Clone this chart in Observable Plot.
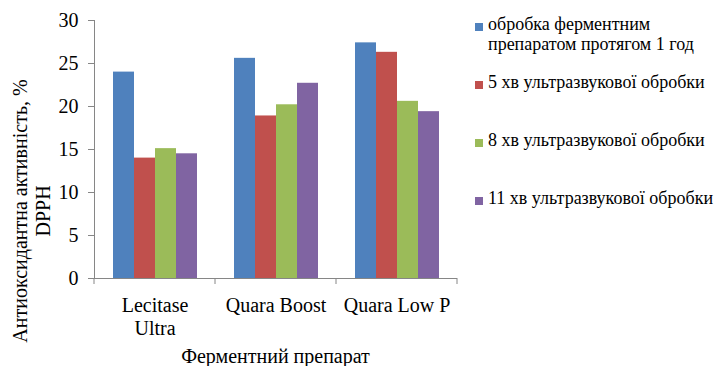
<!DOCTYPE html>
<html><head><meta charset="utf-8">
<script src="https://cdn.jsdelivr.net/npm/d3@7"></script>
<script src="https://cdn.jsdelivr.net/npm/@observablehq/plot@0.6"></script>
<style>
body{margin:0;background:#fff;font-family:"Liberation Serif","Tinos","Times New Roman","DejaVu Serif",serif;}
#wrap{position:relative;width:723px;height:366px;overflow:hidden;background:#fff}
.leg{position:absolute;left:475px;font-size:18px;line-height:20px;color:#000;white-space:nowrap}
.sw{position:absolute;left:0;width:8px;height:8px}
.lt{position:absolute;left:13px;white-space:pre}
svg text{font-family:"Liberation Serif","Tinos","Times New Roman","DejaVu Serif",serif;}
</style></head><body><div id="wrap"></div>
<script>
const categories = ["Lecitase Ultra", "Quara Boost", "Quara Low P"];
const categoryLabels = ["Lecitase\nUltra", "Quara Boost", "Quara Low P"];
const series = ["обробка ферментним препаратом протягом 1 год", "5 хв ультразвукової обробки", "8 хв ультразвукової обробки", "11 хв ультразвукової обробки"];
const legendLabels = ["обробка ферментним\nпрепаратом протягом 1 год", "5 хв ультразвукової обробки", "8 хв ультразвукової обробки", "11 хв ультразвукової обробки"];
const colors = ["#4F81BD", "#C0504D", "#9BBB59", "#8064A2"];
const lecitaseUltra = [24.0, 14.0, 15.1, 14.5];
const quaraBoost = [25.6, 18.9, 20.2, 22.7];
const quaraLowP = [27.4, 26.3, 20.6, 19.4];
const yTicks = [0, 5, 10, 15, 20, 25, 30];
const yTitle = ["Антиоксидантна активність, %", "DPPH"];
const xTitle = "Ферментний препарат";

const data = [];
[lecitaseUltra, quaraBoost, quaraLowP].forEach((vals, i) =>
  vals.forEach((v, j) => data.push({cat: categories[i], s: series[j], v})));

const axisGray = "#868686";
const serifStack = "'Liberation Serif', Tinos, 'Times New Roman', 'DejaVu Serif', serif";
const plot = Plot.plot({
  width: 723, height: 366,
  marginLeft: 93, marginRight: 265, marginTop: 20, marginBottom: 88,
  style: {fontFamily: serifStack, fontSize: "20px", color: "#000", background: "white"},
  fx: {domain: categories, padding: 0, label: null},
  x: {domain: series, paddingInner: 0, paddingOuter: 0.773, axis: null},
  y: {domain: [0, 30], label: null},
  color: {domain: series, range: colors},
  marks: [
    Plot.barY(data, {fx: "cat", x: "s", y: "v", fill: "s"}),
    Plot.ruleY([0], {stroke: axisGray}),
    Plot.frame({anchor: "left", stroke: axisGray, facetAnchor: "left"}),
    Plot.axisY({ticks: yTicks, tickSize: 6, tickPadding: 10, stroke: axisGray, fill: "#000", fontSize: 20, label: null}),
    Plot.axisFx({anchor: "bottom", tickSize: 0, tickPadding: 17, fontSize: 20, lineHeight: 1.15, fill: "#000", label: null,
      tickFormat: d => categoryLabels[categories.indexOf(d)]})
  ]
});

const svg = d3.select(plot);
const fx = plot.scale("fx");
const y = plot.scale("y");
const y0 = y.apply(0);
const edges = categories.map(c => fx.apply(c));
edges.push(fx.apply(categories[categories.length - 1]) + fx.bandwidth);
svg.append("g").selectAll("line").data(edges).join("line")
  .attr("x1", d => d).attr("x2", d => d)
  .attr("y1", y0).attr("y2", y0 + 6)
  .attr("stroke", axisGray);

const plotLeft = edges[0], plotRight = edges[edges.length - 1];
svg.append("text")
  .attr("x", (plotLeft + plotRight) / 2).attr("y", 363)
  .attr("text-anchor", "middle").attr("font-size", 20).attr("fill", "#000")
  .text(xTitle);
const yt = svg.append("text")
  .attr("transform", "translate(27,211) rotate(-90)")
  .attr("text-anchor", "middle").attr("font-size", 20).attr("fill", "#000");
yTitle.forEach((t, i) => yt.append("tspan").attr("x", 0).attr("dy", i === 0 ? 0 : 23).text(t));

const wrap = document.getElementById("wrap");
wrap.appendChild(plot);

const legTops = [14, 72, 130, 188];
const swTops = [9, 9, 9, 9];
legendLabels.forEach((lab, i) => {
  const item = document.createElement("div");
  item.className = "leg";
  item.style.top = legTops[i] + "px";
  const sw = document.createElement("div");
  sw.className = "sw";
  sw.style.background = colors[i];
  sw.style.top = swTops[i] + "px";
  const t = document.createElement("div");
  t.className = "lt";
  t.textContent = lab;
  item.appendChild(sw);
  item.appendChild(t);
  wrap.appendChild(item);
});
</script></body></html>
